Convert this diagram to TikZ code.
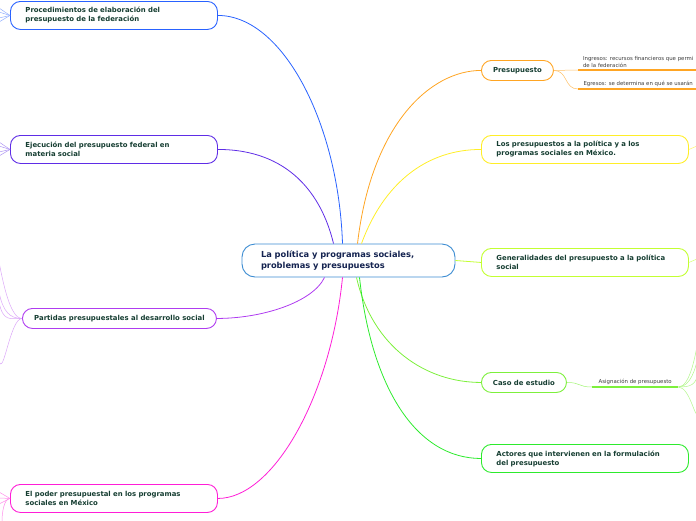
\documentclass[tikz,border=0pt]{standalone}
\usepackage{fontspec}
\setmainfont{DejaVu Sans}
\usetikzlibrary{positioning}

\definecolor{proccol}{RGB}{41,98,255}
\definecolor{ejeccol}{RGB}{95,45,230}
\definecolor{partcol}{RGB}{175,60,240}
\definecolor{podercol}{RGB}{255,30,215}
\definecolor{prescol}{RGB}{255,165,35}
\definecolor{loscol}{RGB}{255,238,40}
\definecolor{gencol}{RGB}{195,255,50}
\definecolor{casocol}{RGB}{125,240,60}
\definecolor{actcol}{RGB}{45,235,45}
\definecolor{maincol}{RGB}{60,140,210}
\definecolor{topictext}{RGB}{22,62,50}
\definecolor{maintext}{RGB}{20,35,80}
\definecolor{subtext}{RGB}{60,60,60}

\tikzset{
  topic/.style={draw, fill=white, rounded corners=10pt, line width=0.9pt,
    font=\fontsize{6.9}{9}\selectfont\bfseries, text=topictext,
    inner xsep=15pt, inner ysep=2pt, minimum height=28pt, anchor=north west},
  widetopic/.style={topic, text width=177pt, align=left},
  shorttopic/.style={topic, minimum height=20pt, inner xsep=2pt, align=center},
  centre/.style={draw=maincol, fill=white, rounded corners=13pt, line width=0.9pt,
    font=\fontsize{8.3}{11}\selectfont\bfseries, text=maintext,
    inner xsep=19pt, text width=175pt, align=left, minimum height=33pt},
  subtopic/.style={font=\fontsize{5.4}{7.6}\selectfont, text=subtext,
    anchor=south west, inner xsep=4pt, inner ysep=2pt, align=left},
  branch/.style={line width=0.8pt},
  twig/.style={line width=0.5pt}
}

\begin{document}
\begin{tikzpicture}[x=1pt,y=-1pt]
\useasboundingbox (0,0) rectangle (696,520);

\node[centre] (main) at (348.5,260.5) {La política y programas sociales,\\problemas y presupuestos};

% left side
\node[widetopic, draw=proccol] (proc) at (10,1) {Procedimientos de elaboración del\\presupuesto de la federación};
\node[widetopic, draw=ejeccol] (ejec) at (10,135) {Ejecución del presupuesto federal en\\materia social};
\node[shorttopic, draw=partcol, minimum width=194pt] (part) at (22,308) {Partidas presupuestales al desarrollo social};
\node[widetopic, draw=podercol] (poder) at (10,484) {El poder presupuestal en los programas\\sociales en México};

% right side
\node[shorttopic, draw=prescol, minimum width=72pt] (pres) at (481,60) {Presupuesto};
\node[widetopic, draw=loscol] (los) at (481,135) {Los presupuestos a la política y a los\\programas sociales en México.};
\node[widetopic, draw=gencol] (gen) at (481,248) {Generalidades del presupuesto a la política\\social};
\node[shorttopic, draw=casocol, minimum width=85pt] (caso) at (481,372) {Caso de estudio};
\node[widetopic, draw=actcol] (act) at (481,444) {Actores que intervienen en la formulación\\del presupuesto};

\node[subtopic, minimum width=120pt] (ing) at (578,70) {Ingresos: recursos financieros que permi\\de la federación};
\node[subtopic, minimum width=120pt] (egr) at (578,89) {Egresos: se determina en qué se usarán};
\node[subtopic, minimum width=86pt] (asig) at (592,387) {Asignación de presupuesto};

\draw[prescol, line width=1.6pt] (ing.south west) -- (ing.south east);
\draw[prescol, line width=1.6pt] (egr.south west) -- (egr.south east);
\draw[casocol, line width=1.6pt] (asig.south west) -- (asig.south east);

% branches
\draw[branch, proccol] (proc.east) .. controls +(65,0) and +(-4,-120) .. ([xshift=-6pt]main.north);
\draw[branch, ejeccol] (ejec.east) .. controls +(70,0) and +(-12,-50) .. ([xshift=-15pt]main.north);
\draw[branch, partcol] (part.east) .. controls +(45,0) and +(-12,25) .. ([xshift=-24pt]main.south);
\draw[branch, podercol] (poder.east) .. controls +(55,0) and +(-12,120) .. ([xshift=-6pt]main.south);
\draw[branch, prescol] ([xshift=9pt]main.north) .. controls +(14,-120) and +(-50,0) .. (pres.west);
\draw[branch, loscol] ([xshift=13pt]main.north) .. controls +(22,-60) and +(-55,0) .. (los.west);
\draw[branch, gencol] (main.east) -- (gen.west);
\draw[branch, casocol] ([xshift=8pt]main.south) .. controls +(16,70) and +(-55,0) .. (caso.west);
\draw[branch, actcol] ([xshift=11pt]main.south) .. controls +(12,110) and +(-65,0) .. (act.west);

\draw[twig, prescol!70] (pres.east) -- (ing.south west);
\draw[twig, prescol!70] (pres.east) .. controls +(14,0) and +(-14,0) .. (egr.south west);
\draw[twig, casocol!70] (caso.east) .. controls +(14,0) and +(-14,0) .. (asig.south west);

% twigs to the hidden children
\foreach \i/\y in {1/340,2/356,3/373,4/412} {
  \coordinate (a\i) at (698,\y);
  \draw[twig, casocol!60] (asig.south east) .. controls +(12,0) and +(-2,12) .. (a\i);
}
\foreach \i/\y in {1/262,2/292,3/302,4/360} {
  \coordinate (p\i) at (-1,\y);
  \draw[twig, partcol!45] (part.west) .. controls +(-12,0) and +(4,20) .. (p\i);
}
\foreach \i/\y in {1/8,2/12,3/18,4/22} {
  \coordinate (f\i) at (-1,\y);
  \coordinate (g\i) at (-1,\y+134);
  \draw[twig, proccol!50] (proc.west) -- (f\i);
  \draw[twig, ejeccol!50] (ejec.west) -- (g\i);
}
\foreach \i/\y in {1/492,2/498,3/504} {
  \coordinate (d\i) at (-1,\y);
  \draw[twig, podercol!50] (poder.west) -- (d\i);
}
\coordinate (d4) at (2,521);
\draw[twig, podercol!50] (poder.west) .. controls +(-6,0) and +(0,-8) .. (d4);
\coordinate (l1) at (697,146);
\coordinate (l2) at (697,259);
\draw[twig, loscol!70] (los.east) -- (l1);
\draw[twig, gencol!70] (gen.east) -- (l2);

\end{tikzpicture}
\end{document}
